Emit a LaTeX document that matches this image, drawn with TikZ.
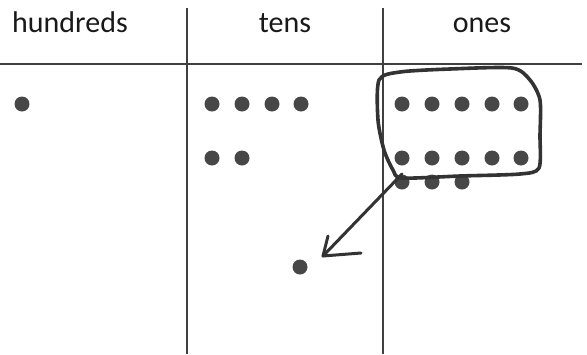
\documentclass[tikz,border=0pt]{standalone}
\usepackage{fontspec}
\setmainfont{Carlito}
\begin{document}
\begin{tikzpicture}[x=1pt,y=-1pt,
  grid/.style={draw=black!75,line width=1.6pt},
  dot/.style={circle,fill=black!72,minimum size=15pt,inner sep=0pt},
  head/.style={font=\fontsize{30}{32}\selectfont,text=black!90,anchor=base},
  pen/.style={draw=black!80,line width=3.6pt,line cap=round,line join=round}]
\useasboundingbox (0,0) rectangle (587,354);
% table
\coordinate (v1t) at (187,8); \coordinate (v1b) at (187,354);
\coordinate (v2t) at (383,8); \coordinate (v2b) at (383,354);
\coordinate (hl) at (0,64); \coordinate (hr) at (582,64);
\draw[grid] (v1t) -- (v1b);
\draw[grid] (v2t) -- (v2b);
\draw[grid] (hl) -- (hr);
\node[head] (h1) at (70,32) {hundreds};
\node[head] (h2) at (285,32) {tens};
\node[head] (h3) at (482,32) {ones};
% hundreds
\node[dot] (hd) at (22,104) {};
% tens
\foreach \x [count=\i] in {212,242,272,301} \node[dot] (t1\i) at (\x,104) {};
\foreach \x [count=\i] in {212,242} \node[dot] (t2\i) at (\x,158) {};
% ones
\foreach \x [count=\i] in {402,432,462,492,521} {
  \node[dot] (o1\i) at (\x,104) {};
  \node[dot] (o2\i) at (\x,158) {};
}
\foreach \x [count=\i] in {402,432,462} \node[dot] (o3\i) at (\x,182) {};
% moved ten
\node[dot] (nt) at (300,267) {};
% loop
\draw[pen] plot[smooth cycle,tension=0.45] coordinates {
  (379,80) (400,72) (450,69) (512,68) (530,80) (540,100) (540,135) (539,168)
  (520,174) (460,176) (402,178) (393,170) (384,150) (378,120)};
% arrow
\coordinate (as) at (402,174);
\coordinate (b1) at (328,236);
\coordinate (b2) at (361,253);
\draw[pen,line width=3pt] (as) -- ([shift={(23,-11)}]nt.center) coordinate (tip);
\draw[pen,line width=3pt] (b1) -- (tip) -- (b2);
\end{tikzpicture}
\end{document}
